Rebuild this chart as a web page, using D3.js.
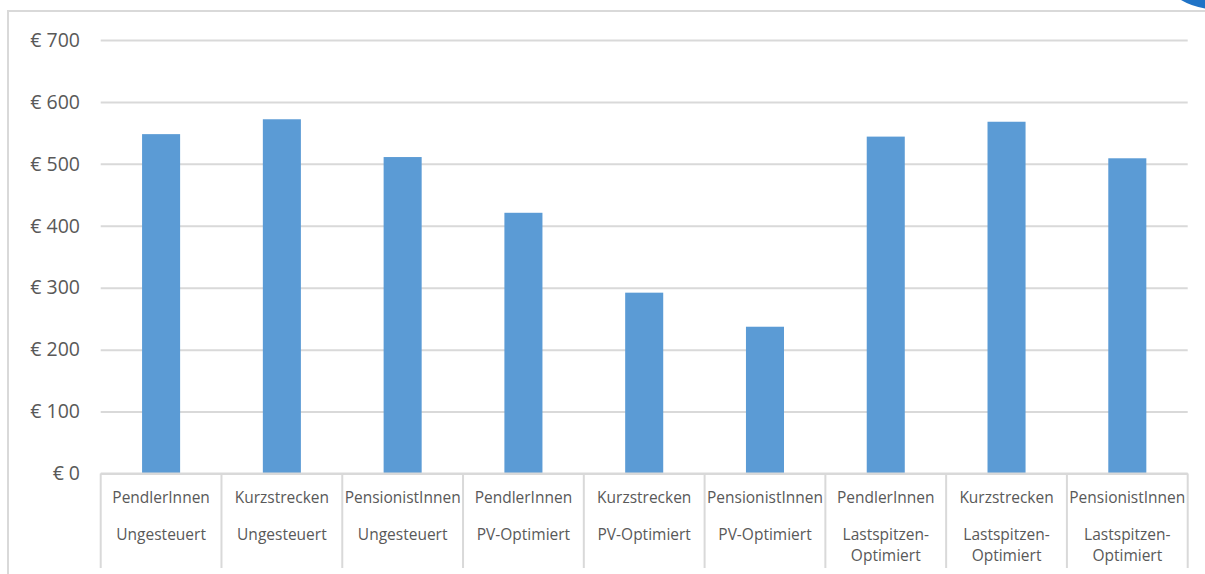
<!DOCTYPE html>
<html>
<head>
<meta charset="utf-8">
<script src="https://cdn.jsdelivr.net/npm/d3@7"></script>
<style>
  html, body { margin: 0; padding: 0; background: #ffffff; }
  svg { display: block; font-family: "Open Sans", "Noto Sans", sans-serif; }
</style>
</head>
<body>
<svg id="chart" width="1205" height="574"></svg>
<script>
// Charging cost per user profile and charging strategy
const profiles = ["PendlerInnen", "Kurzstrecken", "PensionistInnen"];
const strategies = ["Ungesteuert", "PV-Optimiert", "Lastspitzen-Optimiert"];
const costs = [548, 572, 511, 421, 292, 237, 544, 568, 509];
const yTicks = [0, 100, 200, 300, 400, 500, 600, 700];

// one category per (strategy, profile) pair, strategy-major order
const categories = strategies.flatMap(s => profiles.map(p => ({ profile: p, strategy: s })));
const rows = categories.map((c, i) => ({ key: c.strategy + "|" + c.profile, ...c, value: costs[i] }));

const svg = d3.select("#chart");
const W = 1205, H = 574;
const plot = { left: 100.7, right: 1187.7, top: 40, bottom: 473.5 };
const textColor = "#595959";
const gridColor = "#d9d9d9";

// chart frame
svg.append("path")
  .attr("d", `M8,${H} L8,11 L${W},11`)
  .attr("fill", "none")
  .attr("stroke", gridColor)
  .attr("stroke-width", 2);

// blue corner badge
svg.append("path")
  .attr("d", "M1181,0 Q1191,6 1205,8.5 L1205,0 Z")
  .attr("fill", "#1f73c6");

const x = d3.scaleBand()
  .domain(rows.map(d => d.key))
  .range([plot.left, plot.right])
  .padding(0);

const y = d3.scaleLinear()
  .domain([0, 700])
  .range([plot.bottom, plot.top]);

// horizontal gridlines
svg.append("g")
  .attr("transform", `translate(${plot.left},0)`)
  .call(d3.axisLeft(y).tickValues(yTicks).tickSize(-(plot.right - plot.left)).tickFormat(""))
  .call(g => g.select(".domain").remove())
  .call(g => g.selectAll(".tick line").attr("stroke", gridColor).attr("stroke-width", 2));

// value axis labels
svg.append("g")
  .attr("transform", `translate(80,0)`)
  .call(d3.axisLeft(y).tickValues(yTicks).tickSize(0).tickPadding(0).tickFormat(d => "€ " + d))
  .call(g => g.select(".domain").remove())
  .call(g => g.selectAll("text")
    .attr("fill", textColor)
    .attr("font-size", 19.5)
    .attr("font-family", "'Open Sans', sans-serif"));

// bars
const barFrac = 0.315;
svg.append("g")
  .selectAll("rect")
  .data(rows)
  .join("rect")
  .attr("x", d => x(d.key) + x.bandwidth() * (1 - barFrac) / 2)
  .attr("width", x.bandwidth() * barFrac)
  .attr("y", d => y(d.value))
  .attr("height", d => y(0) - y(d.value))
  .attr("fill", "#5b9bd5");

// category axis: baseline plus separators between categories
const axisG = svg.append("g");
axisG.append("line")
  .attr("x1", plot.left).attr("x2", plot.right)
  .attr("y1", plot.bottom).attr("y2", plot.bottom)
  .attr("stroke", gridColor).attr("stroke-width", 2);

const edges = rows.map(d => x(d.key)).concat([plot.right]);
axisG.selectAll("line.sep")
  .data(edges)
  .join("line")
  .attr("class", "sep")
  .attr("x1", d => d).attr("x2", d => d)
  .attr("y1", plot.bottom).attr("y2", 568)
  .attr("stroke", gridColor).attr("stroke-width", 2);

// two-level category labels
const labels = axisG.selectAll("g.cat")
  .data(rows)
  .join("g")
  .attr("class", "cat")
  .attr("transform", d => `translate(${x(d.key) + x.bandwidth() / 2},0)`);

labels.append("text")
  .attr("y", 498)
  .attr("dy", "0.35em")
  .attr("text-anchor", "middle")
  .attr("fill", textColor)
  .attr("font-size", 15.5)
  .text(d => d.profile);

labels.each(function(d) {
  const g = d3.select(this);
  // break long strategy names after the hyphen
  const lines = d.strategy.length > 14 ? d.strategy.replace("-", "-\n").split("\n") : [d.strategy];
  lines.forEach((line, i) => {
    g.append("text")
      .attr("y", 535 + i * 21)
      .attr("dy", "0.35em")
      .attr("text-anchor", "middle")
      .attr("fill", textColor)
      .attr("font-size", 15.5)
      .text(line);
  });
});
</script>
</body>
</html>
